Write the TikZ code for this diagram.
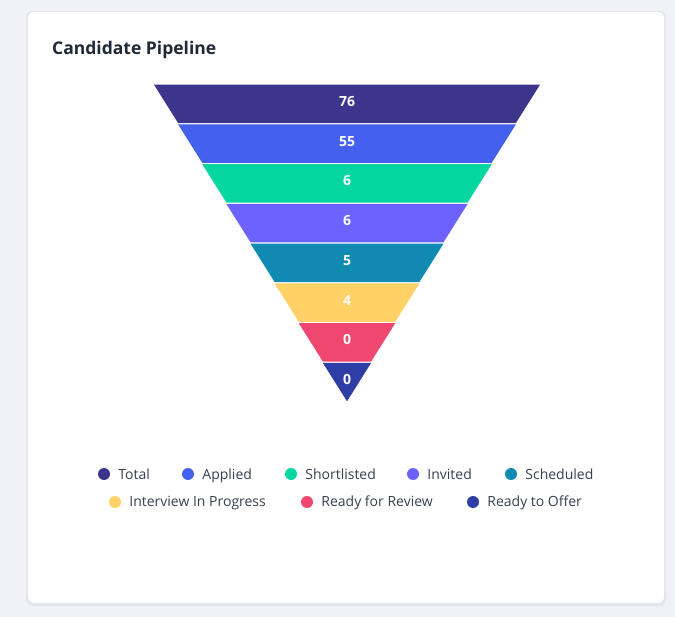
\documentclass[tikz,border=0pt]{standalone}
\usepackage{fontspec}
\setmainfont{Open Sans}
\usetikzlibrary{positioning}
\definecolor{pageGray}{HTML}{F1F2F5}
\definecolor{shadowGray}{HTML}{E4E5EA}
\definecolor{titleInk}{HTML}{1F2937}
\definecolor{legendInk}{HTML}{374151}
\definecolor{cTotal}{HTML}{3D348B}
\definecolor{cApplied}{HTML}{4361EE}
\definecolor{cShortlisted}{HTML}{06D6A0}
\definecolor{cInvited}{HTML}{6C63FF}
\definecolor{cScheduled}{HTML}{118AB2}
\definecolor{cInterview}{HTML}{FFD166}
\definecolor{cReview}{HTML}{EF476F}
\definecolor{cOffer}{HTML}{2F3EA6}
\tikzset{
  bandnum/.style={text=white, font=\bfseries\fontsize{14}{16}\selectfont, inner sep=0pt, text height=10pt, text depth=0pt},
  legdot/.style={circle, minimum size=12pt, inner sep=0pt},
  legtext/.style={text=legendInk, font=\fontsize{14}{16}\selectfont, inner sep=0pt, text height=12pt, text depth=2pt, anchor=west},
}

\begin{document}
\begin{tikzpicture}[x=1pt,y=-1pt]
\fill[pageGray] (0,0) rectangle (675,617);
\fill[shadowGray, rounded corners=7pt] (26,11) rectangle (666,606);
\fill[white, rounded corners=6pt] (28,12) rectangle (664,603);

\node[anchor=west, text=titleInk, font=\bfseries\fontsize{17.5}{20}\selectfont, inner sep=0pt] (title) at (52,49.5) {Candidate Pipeline};

\foreach \i/\col/\val in {0/cTotal/76,1/cApplied/55,2/cShortlisted/6,3/cInvited/6,4/cScheduled/5,5/cInterview/4,6/cReview/0,7/cOffer/0} {
\pgfmathsetmacro\ya{84+39.75*\i}
\pgfmathsetmacro\yb{84+39.75*(\i+1)}
\pgfmathsetmacro\wa{(402-\ya)*0.6069}
\pgfmathsetmacro\wb{(402-\yb)*0.6069}
\fill[\col] (347-\wa,\ya+0.7) -- (347+\wa,\ya+0.7) -- (347+\wb,\yb-0.7) -- (347-\wb,\yb-0.7) -- cycle;
\node[bandnum] (band\i) at (347,\ya+17.5) {\val};
}

\def\y{474}
\foreach \x/\col/\txt/\nm in {104/cTotal/Total/total,188/cApplied/Applied/applied,291/cShortlisted/Shortlisted/shortlisted,413/cInvited/Invited/invited,511/cScheduled/Scheduled/scheduled} {
\node[legdot, fill=\col] (dot\nm) at (\x,\y) {};
\node[legtext, right=8pt of dot\nm] (lab\nm) {\txt};
}

\def\y{502}
\foreach \x/\col/\txt/\nm in {115/cInterview/Interview In Progress/interview,307/cReview/Ready for Review/review,473/cOffer/Ready to Offer/offer} {
\node[legdot, fill=\col] (dot\nm) at (\x,\y) {};
\node[legtext, right=8pt of dot\nm] (lab\nm) {\txt};
}

\end{tikzpicture}
\end{document}
